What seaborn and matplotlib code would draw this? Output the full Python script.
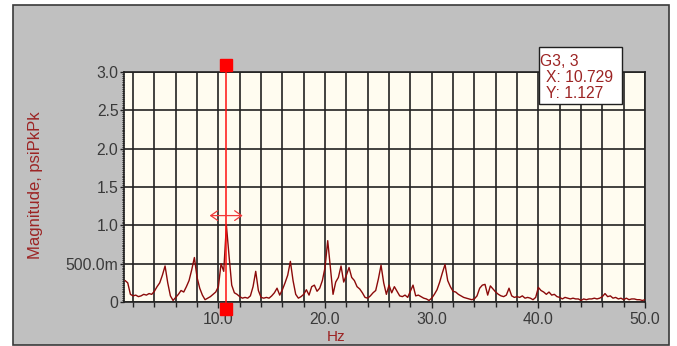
import numpy as np
import matplotlib
matplotlib.use("Agg")
import matplotlib.pyplot as plt
from matplotlib.patches import Rectangle
from matplotlib.ticker import MultipleLocator, FixedLocator
import seaborn as sns

sns.set_theme(style="white")
plt.rcParams["font.family"] = ["Liberation Sans", "DejaVu Sans"]

# Spectrum: frequency bins (Hz) and magnitude (psi pk-pk), one row per Hz
freq_start = 1.25
freq_step = 0.25
magnitude = [
    0.28, 0.25, 0.10, 0.08,
    0.09, 0.07, 0.08, 0.10,
    0.09, 0.11, 0.10, 0.14,
    0.20, 0.25, 0.35, 0.47,
    0.25, 0.08, 0.02, 0.06,
    0.10, 0.15, 0.13, 0.20,
    0.28, 0.42, 0.58, 0.32,
    0.18, 0.09, 0.03, 0.05,
    0.07, 0.10, 0.13, 0.20,
    0.50, 0.40, 1.00, 0.60,
    0.22, 0.12, 0.10, 0.07,
    0.05, 0.06, 0.05, 0.08,
    0.20, 0.40, 0.15, 0.06,
    0.05, 0.06, 0.05, 0.08,
    0.12, 0.18, 0.09, 0.16,
    0.25, 0.35, 0.53, 0.28,
    0.10, 0.05, 0.07, 0.10,
    0.16, 0.09, 0.20, 0.22,
    0.14, 0.18, 0.28, 0.45,
    0.80, 0.45, 0.10, 0.26,
    0.32, 0.47, 0.26, 0.35,
    0.45, 0.32, 0.28, 0.20,
    0.17, 0.12, 0.06, 0.05,
    0.08, 0.12, 0.15, 0.30,
    0.48, 0.25, 0.10, 0.22,
    0.12, 0.20, 0.14, 0.08,
    0.07, 0.09, 0.06, 0.14,
    0.22, 0.08, 0.09, 0.07,
    0.05, 0.04, 0.02, 0.05,
    0.10, 0.16, 0.26, 0.38,
    0.49, 0.28, 0.20, 0.14,
    0.13, 0.10, 0.08, 0.06,
    0.05, 0.04, 0.03, 0.04,
    0.08, 0.18, 0.22, 0.23,
    0.09, 0.21, 0.17, 0.13,
    0.10, 0.08, 0.07, 0.09,
    0.18, 0.08, 0.06, 0.07,
    0.06, 0.08, 0.05, 0.06,
    0.05, 0.03, 0.06, 0.19,
    0.15, 0.13, 0.10, 0.13,
    0.09, 0.10, 0.07, 0.06,
    0.04, 0.06, 0.05, 0.04,
    0.05, 0.04, 0.04, 0.02,
    0.04, 0.03, 0.04, 0.04,
    0.05, 0.04, 0.05, 0.07,
    0.11, 0.07, 0.08, 0.05,
    0.06, 0.04, 0.05, 0.03,
    0.05, 0.03, 0.04, 0.04,
    0.03, 0.03, 0.02, 0.03,
]
freq = freq_start + freq_step * np.arange(len(magnitude))

# Cursor readout
cursor_name = "G3, 3"
cursor_x = 10.729
cursor_y = 1.127

x_tick_values = [10, 20, 30, 40, 50]
x_tick_labels = ["10.0", "20.0", "30.0", "40.0", "50.0"]
y_tick_values = [0, 0.5, 1.0, 1.5, 2.0, 2.5, 3.0]
y_tick_labels = ["0", "500.0m", "1.0", "1.5", "2.0", "2.5", "3.0"]

x_label = "Hz"
y_label = "Magnitude, psiPkPk"

W, H = 677, 346
fig = plt.figure(figsize=(W / 100, H / 100), dpi=100, facecolor="white")

def fx(px):
    return px / W

def fy(py):
    return 1 - py / H

# grey window panel with a dark frame
fig.patches.append(Rectangle((fx(12.5), fy(345)), fx(669) - fx(12.5), fy(4.5) - fy(345),
                             transform=fig.transFigure, facecolor="#c0c0c0",
                             edgecolor="#3a3a3a", lw=1.2, zorder=-10))

ax = fig.add_axes([fx(124), fy(302), fx(645) - fx(124), fy(72) - fy(302)])
ax.set_facecolor("#fffcf0")

trace_color = "#8b0a0a"
sns.lineplot(x=freq, y=magnitude, ax=ax, color=trace_color, lw=1.0,
             estimator=None, zorder=3)

ax.set_xlim(1.15, 50)
ax.set_ylim(0, 3)

ax.xaxis.set_major_locator(FixedLocator(x_tick_values))
ax.set_xticklabels(x_tick_labels)
ax.xaxis.set_minor_locator(MultipleLocator(2))
ax.set_yticks(y_tick_values)
ax.set_yticklabels(y_tick_labels)
ax.yaxis.set_minor_locator(MultipleLocator(0.025))

grid_color = "#222222"
ax.xaxis.grid(True, which="both", color=grid_color, lw=1.2)
ax.yaxis.grid(True, which="major", color=grid_color, lw=1.2)
ax.set_axisbelow(True)
for s in ax.spines.values():
    s.set_color(grid_color)
    s.set_linewidth(1.2)

label_gray = "#3a3a3a"
tick_size = 11.3
ax.tick_params(axis="x", which="major", bottom=True, length=4, width=1,
               color=grid_color, labelsize=tick_size, labelcolor=label_gray, pad=3)
ax.tick_params(axis="x", which="minor", bottom=True, length=3.5, width=1,
               color=grid_color)
ax.tick_params(axis="y", which="major", left=True, length=3, width=1,
               color=grid_color, labelsize=tick_size, labelcolor=label_gray, pad=1)
ax.tick_params(axis="y", which="minor", left=True, length=1.8, width=0.7,
               color=grid_color)
ax.set_xlabel("")
ax.set_ylabel("")

red_dark = "#9c2424"
fig.text(fx(336), fy(337), x_label, ha="center", va="center",
         color=red_dark, fontsize=11)
fig.text(fx(36), fy(185), y_label, ha="center", va="center", rotation=90,
         color=red_dark, fontsize=12)

# cursor line with its two handles
ax.plot([cursor_x, cursor_x], [-0.085, 3.095], color="#ff1010", lw=1.1,
        clip_on=False, zorder=6)
ax.plot([cursor_x, cursor_x], [3.095, -0.085], "s", ms=8, color="#ff0000",
        mec="#ff0000", clip_on=False, zorder=7)
ax.annotate("", xy=(cursor_x - 1.55, cursor_y), xytext=(cursor_x + 1.55, cursor_y),
            arrowprops=dict(arrowstyle="<->,head_length=0.5,head_width=0.35",
                            color="#f03a3a", lw=0.9, mutation_scale=10,
                            shrinkA=0, shrinkB=0), zorder=6)

# cursor readout box
fig.patches.append(Rectangle((fx(538.5), fy(103.5)), fx(621.5) - fx(538.5),
                             fy(47.5) - fy(103.5), transform=fig.transFigure,
                             facecolor="white", edgecolor="#202020", lw=1.0,
                             zorder=10))
fig.text(fx(540.5), fy(61), cursor_name, ha="left", va="center",
         color=red_dark, fontsize=11.3, zorder=11)
fig.text(fx(546), fy(77.5), f"X: {cursor_x:.3f}", ha="left", va="center",
         color=red_dark, fontsize=11.3, zorder=11)
fig.text(fx(546), fy(94), f"Y: {cursor_y:.3f}", ha="left", va="center",
         color=red_dark, fontsize=11.3, zorder=11)

fig.savefig("out.png", dpi=100, facecolor=fig.get_facecolor())
